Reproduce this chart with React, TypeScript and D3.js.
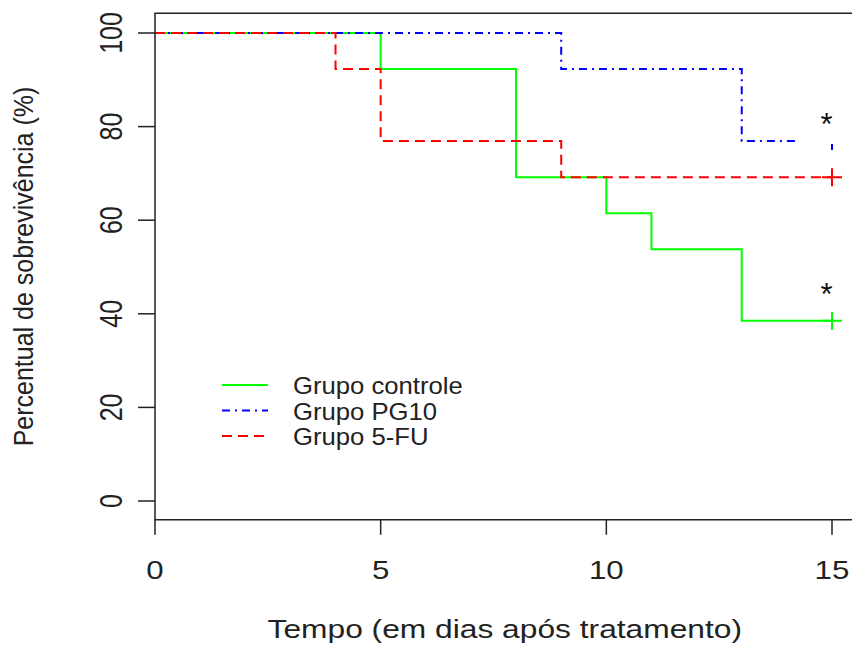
import * as d3 from 'd3';

// curvas de Kaplan-Meier (tempo em dias, sobrevivência em %)
const controleTempo = [0, 5, 8, 10, 11, 13, 15];
const controleSobrev = [100, 92.3, 69.2, 61.5, 53.8, 38.5, 38.5];
const pg10Tempo = [0, 9, 13, 14.25];
const pg10Sobrev = [100, 92.3, 76.9, 76.9];
const fuTempo = [0, 4, 5, 9, 15];
const fuSobrev = [100, 92.3, 76.9, 69.2, 69.2];

// censuras (+) no fim do acompanhamento
const censuraTempo = [15, 15, 15];
const censuraSobrev = [38.5, 76.9, 69.2];

const grupos = ['Grupo controle', 'Grupo PG10', 'Grupo 5-FU'];
const cores = ['#00ff00', '#0000ff', '#ff0000'];
const tracos = ['none', '8 5 2 5', '10 6'];
// o "+" do PG10 aparece só em parte por causa do traço-ponto
const tracosCensura = [undefined, '0 51 6 100', undefined];

const asteriscoX = [14.88, 14.88];
const asteriscoY = [82, 45.7];

const xTicks = [0, 5, 10, 15];
const yTicks = [0, 20, 40, 60, 80, 100];

const width = 852;
const height = 646;
const font = 'Liberation Sans, Arial, sans-serif';
const sx = 1.25; // texto esticado na horizontal

export default function App() {
  const x = d3.scaleLinear().domain([0, 15]).range([155, 832]);
  const y = d3.scaleLinear().domain([0, 100]).range([501, 33]);

  const line = d3
    .line<[number, number]>()
    .x((d) => x(d[0]))
    .y((d) => y(d[1]))
    .curve(d3.curveStepAfter);

  const series = [
    d3.zip(controleTempo, controleSobrev) as [number, number][],
    d3.zip(pg10Tempo, pg10Sobrev) as [number, number][],
    d3.zip(fuTempo, fuSobrev) as [number, number][],
  ];

  const boxLeft = x(0);
  const boxRight = x(15.5);
  const boxTop = y(104.2);
  const boxBottom = y(-4);

  return (
    <svg
      width={width}
      height={height}
      style={{ position: 'absolute', left: 0, top: 0, background: '#fff' }}
      fontFamily={font}
    >
      <rect width={width} height={height} fill="#fff" />

      {/* curvas */}
      {series.map((s, i) => (
        <path
          key={grupos[i]}
          d={line(s) ?? ''}
          fill="none"
          stroke={cores[i]}
          strokeWidth={2}
          strokeDasharray={tracos[i]}
        />
      ))}

      {/* marcas de censura */}
      {censuraTempo.map((t, i) => {
        const cx = x(t);
        const cy = y(censuraSobrev[i]);
        return (
          <path
            key={i}
            d={`M${cx - 10},${cy}H${cx + 10}H${cx}V${cy - 9}V${cy + 9}`}
            fill="none"
            stroke={cores[i]}
            strokeWidth={2}
            strokeDasharray={tracosCensura[i]}
          />
        );
      })}

      {/* asteriscos */}
      {asteriscoX.map((ax, i) => (
        <text
          key={i}
          transform={`translate(${x(ax)},${y(asteriscoY[i]) + 18})`}
          textAnchor="middle"
          fontSize={31}
          fill="#111"
        >
          *
        </text>
      ))}

      {/* caixa */}
      <path
        d={`M${boxRight},${boxTop}H${boxLeft}V${boxBottom}H${boxRight}`}
        fill="none"
        stroke="#222"
        strokeWidth={1.5}
      />

      {/* eixo x */}
      {xTicks.map((t) => (
        <g key={t}>
          <line x1={x(t)} x2={x(t)} y1={boxBottom} y2={boxBottom + 15} stroke="#222" strokeWidth={1.5} />
          <text
            transform={`translate(${x(t)},579) scale(${sx},1)`}
            textAnchor="middle"
            fontSize={25}
            fill="#222"
          >
            {t}
          </text>
        </g>
      ))}

      {/* eixo y */}
      {yTicks.map((t) => (
        <g key={t}>
          <line x1={boxLeft - 17} x2={boxLeft} y1={y(t)} y2={y(t)} stroke="#222" strokeWidth={1.5} />
          <text
            transform={`translate(122,${y(t)}) scale(${sx},1) rotate(-90)`}
            textAnchor="middle"
            fontSize={25}
            fill="#222"
          >
            {t}
          </text>
        </g>
      ))}

      {/* títulos */}
      <text
        transform={`translate(${(boxLeft + boxRight) / 2},638) scale(1.27,1)`}
        textAnchor="middle"
        fontSize={25}
        fill="#222"
      >
        Tempo (em dias após tratamento)
      </text>
      <text
        transform={`translate(33,${(boxTop + boxBottom) / 2}) scale(1.08,1) rotate(-90)`}
        textAnchor="middle"
        fontSize={25}
        fill="#222"
      >
        Percentual de sobrevivência (%)
      </text>

      {/* legenda */}
      {grupos.map((g, i) => {
        const ly = 385 + i * 25.5;
        return (
          <g key={g}>
            <line
              x1={222}
              x2={268}
              y1={ly}
              y2={ly}
              stroke={cores[i]}
              strokeWidth={2}
              strokeDasharray={tracos[i]}
            />
            <text
              transform={`translate(293,${ly + 9}) scale(1.07,1)`}
              fontSize={24}
              fill="#222"
            >
              {g}
            </text>
          </g>
        );
      })}
    </svg>
  );
}
